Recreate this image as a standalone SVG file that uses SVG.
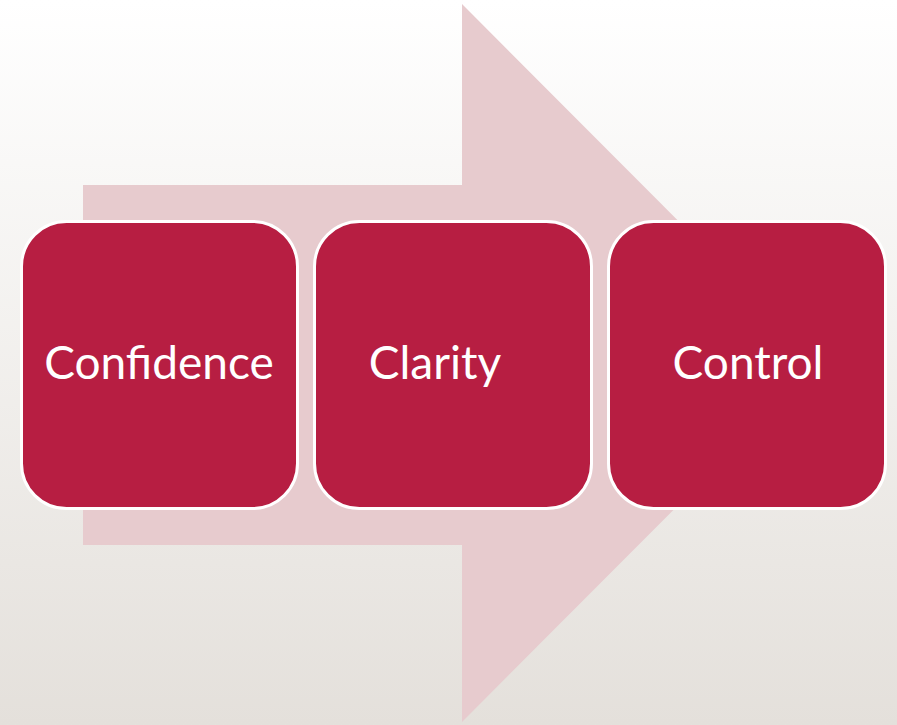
<svg xmlns="http://www.w3.org/2000/svg" width="897" height="725" viewBox="0 0 897 725">
<defs>
<linearGradient id="bg" x1="0" y1="0" x2="0" y2="1">
<stop offset="0" stop-color="#FFFFFF"/>
<stop offset="1" stop-color="#E4E0DB"/>
</linearGradient>
<style>
.box{fill:#B71E42;stroke:#FFFFFF;stroke-width:3}
.lbl{font-family:Lato,"Liberation Sans",sans-serif;font-size:46px;fill:#FFFFFF;text-anchor:middle}
</style>
</defs>
<rect x="0" y="0" width="897" height="725" fill="url(#bg)"/>
<g id="connectors">
<polygon points="83,185 462,185 462,4 820,363 462,722 462,545 83,545" fill="#E7CBCE"/>
</g>
<g id="node-confidence">
<rect class="box" x="21.5" y="221.5" width="276" height="287" rx="45" ry="45"/>
<text class="lbl" x="159" y="379">Confidence</text>
</g>
<g id="node-clarity">
<rect class="box" x="314.5" y="221.5" width="277" height="287" rx="45" ry="45"/>
<text class="lbl" x="435" y="379">Clarity</text>
</g>
<g id="node-control">
<rect class="box" x="608.5" y="221.5" width="277" height="287" rx="45" ry="45"/>
<text class="lbl" x="748" y="379">Control</text>
</g>
</svg>
